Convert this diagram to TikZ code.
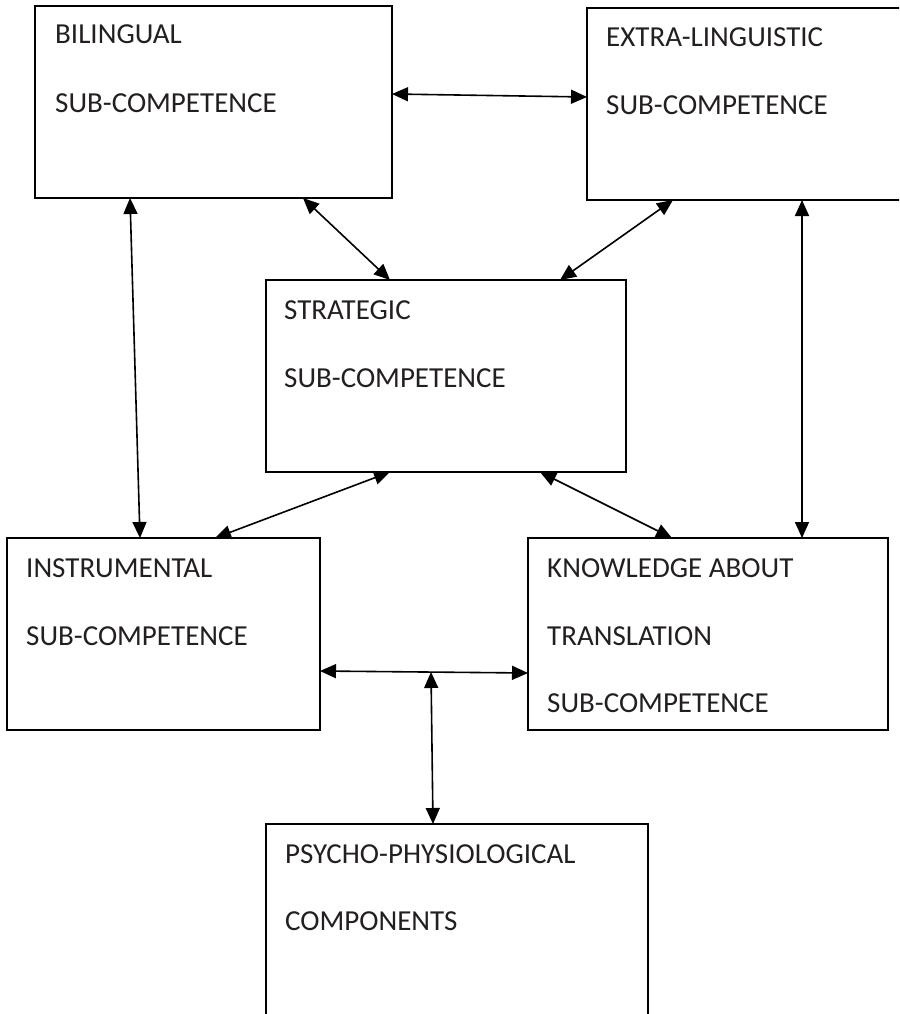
\documentclass[tikz,border=0pt]{standalone}
\usepackage{fontspec}
\setmainfont{Carlito}
\usetikzlibrary{arrows.meta,calc}
\definecolor{txt}{HTML}{231F20}
\begin{document}
\begin{tikzpicture}[x=1pt,y=-1pt,
 box/.style={draw=black,line width=2pt,rectangle,outer sep=0pt,inner sep=0pt,anchor=north west},
 lbl/.style={anchor=base west,inner sep=0pt,text=txt,font=\fontsize{29}{35}\selectfont},
 arr/.style={line width=1.6pt,{Triangle[length=16pt,width=14pt]}-{Triangle[length=16pt,width=14pt]}}]
\useasboundingbox (0,0) rectangle (899,1014);
\clip (0,0) rectangle (899,1014);
% boxes
\node[box,minimum width=357pt,minimum height=192pt] (bil) at (35,6) {};
\node[box,minimum width=320pt,minimum height=192pt] (ext) at (587,8) {};
\node[box,minimum width=360pt,minimum height=192pt] (str) at (266,280) {};
\node[box,minimum width=313pt,minimum height=192pt] (ins) at (7,538) {};
\node[box,minimum width=360pt,minimum height=192pt] (kno) at (528,538) {};
\node[box,minimum width=382pt,minimum height=230pt] (psy) at (266,824) {};
% labels
\node[lbl] (bil1) at (55,44) {BILINGUAL};
\node[lbl] (bil2) at (55,113) {SUB-COMPETENCE};
\node[lbl] (ext1) at (606,47) {EXTRA-LINGUISTIC};
\node[lbl] (ext2) at (606,114) {SUB-COMPETENCE};
\node[lbl] (str1) at (284,319) {STRATEGIC};
\node[lbl] (str2) at (284,387) {SUB-COMPETENCE};
\node[lbl] (ins1) at (26,577) {INSTRUMENTAL};
\node[lbl] (ins2) at (26,645) {SUB-COMPETENCE};
\node[lbl] (kno1) at (547,577) {KNOWLEDGE ABOUT};
\node[lbl] (kno2) at (547,645) {TRANSLATION};
\node[lbl] (kno3) at (547,712) {SUB-COMPETENCE};
\node[lbl] (psy1) at (285,863) {PSYCHO-PHYSIOLOGICAL};
\node[lbl] (psy2) at (285,930) {COMPONENTS};
% connectors
\draw[arr] (bil.east |- 0,94) -- (ext.west |- 0,97);
\draw[arr] (bil.south -| 303,0) -- (str.north -| 390,0);
\draw[arr] (ext.south -| 673,0) -- (str.north -| 560,0);
\draw[arr] (ext.south -| 802,0) -- (kno.north -| 802,0);
\draw[arr] (bil.south -| 130,0) -- (ins.north -| 140,0);
\draw[arr] (str.south -| 390,0) -- (ins.north -| 215,0);
\draw[arr] (str.south -| 540,0) -- (kno.north -| 672,0);
\draw[arr] (ins.east |- 0,671) -- (kno.west |- 0,673);
\coordinate (mid) at (431,672);
\draw[arr] (mid) -- (psy.north -| 433,0);
\end{tikzpicture}
\end{document}
